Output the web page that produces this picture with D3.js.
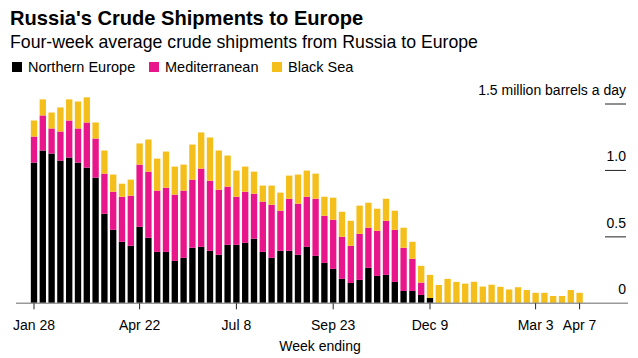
<!DOCTYPE html>
<html>
<head>
<meta charset="utf-8">
<script src="https://cdn.jsdelivr.net/npm/d3@7"></script>
<style>
  html, body { margin: 0; padding: 0; background: #fff; }
  svg { display: block; font-family: "Liberation Sans", Arial, Helvetica, sans-serif; }
</style>
</head>
<body>
<svg id="chart" width="638" height="358"></svg>
<script>
// ---- data ----
const weeks = [
  "2022-01-28","2022-02-04","2022-02-11","2022-02-18","2022-02-25","2022-03-04","2022-03-11","2022-03-18","2022-03-25",
  "2022-04-01","2022-04-08","2022-04-15","2022-04-22","2022-04-29","2022-05-06","2022-05-13","2022-05-20","2022-05-27",
  "2022-06-03","2022-06-10","2022-06-17","2022-06-24","2022-07-01","2022-07-08","2022-07-15","2022-07-22","2022-07-29",
  "2022-08-05","2022-08-12","2022-08-19","2022-08-26","2022-09-02","2022-09-09","2022-09-16","2022-09-23","2022-09-30",
  "2022-10-07","2022-10-14","2022-10-21","2022-10-28","2022-11-04","2022-11-11","2022-11-18","2022-11-25","2022-12-02",
  "2022-12-09","2022-12-16","2022-12-23","2022-12-30","2023-01-06","2023-01-13","2023-01-20","2023-01-27","2023-02-03",
  "2023-02-10","2023-02-17","2023-02-24","2023-03-03","2023-03-10","2023-03-17","2023-03-24","2023-03-31","2023-04-07"
];
const northernEurope = [
  1.059,1.150,1.127,1.074,1.097,1.059,1.021,0.946,0.674,0.553,0.463,0.433,0.576,0.493,0.387,0.387,0.319,0.342,
  0.418,0.425,0.395,0.365,0.440,0.440,0.455,0.486,0.387,0.342,0.395,0.395,0.365,0.425,0.357,0.304,0.259,0.184,
  0.153,0.176,0.267,0.206,0.214,0.161,0.093,0.093,0.063,0.040,0,0,0,0,0,0,0,0,0,0,0,0,0,0,0,0,0
];
const mediterranean = [
  0.196,0.264,0.189,0.219,0.279,0.257,0.340,0.294,0.302,0.287,0.339,0.377,0.468,0.498,0.461,0.483,0.499,0.506,
  0.513,0.589,0.528,0.490,0.438,0.362,0.385,0.339,0.378,0.400,0.302,0.392,0.385,0.377,0.430,0.355,0.370,0.317,
  0.280,0.347,0.302,0.340,0.407,0.392,0.325,0.242,0.093,0,0,0,0,0,0,0,0,0,0,0,0,0,0,0,0,0,0
];
const blackSea = [
  0.121,0.121,0.120,0.181,0.159,0.203,0.189,0.121,0.174,0.129,0.098,0.121,0.159,0.242,0.241,0.272,0.211,0.196,
  0.264,0.272,0.325,0.295,0.234,0.197,0.189,0.166,0.121,0.144,0.136,0.174,0.219,0.197,0.189,0.143,0.166,0.188,
  0.188,0.212,0.188,0.166,0.166,0.144,0.151,0.128,0.126,0.174,0.138,0.184,0.161,0.148,0.162,0.126,0.140,0.124,
  0.104,0.121,0.100,0.079,0.079,0.055,0.055,0.100,0.079
];
const seriesNames = ["Northern Europe", "Mediterranean", "Black Sea"];
const seriesColors = ["#000000", "#e8158b", "#f5bf1b"];
const xTickWeeks = ["2022-01-28","2022-04-22","2022-07-08","2022-09-23","2022-12-09","2023-03-03","2023-04-07"];
const xTickLabels = ["Jan 28","Apr 22","Jul 8","Sep 23","Dec 9","Mar 3","Apr 7"];
const yTicks = [0, 0.5, 1.0, 1.5];
const yTickLabels = ["0", "0.5", "1.0", "1.5 million barrels a day"];

// ---- build ----
const svg = d3.select("#chart");
const rows = weeks.map((w, i) => ({ week: w, "Northern Europe": northernEurope[i], "Mediterranean": mediterranean[i], "Black Sea": blackSea[i] }));
const stacked = d3.stack().keys(seriesNames)(rows);

const x = d3.scaleBand().domain(weeks).range([29.6, 584]).paddingInner(0.28).paddingOuter(0.14);
const y = d3.scaleLinear().domain([0, 1.5]).range([303.3, 104]);

// title / subtitle
svg.append("text").attr("x", 10).attr("y", 25).attr("font-size", 20.1).attr("font-weight", "bold").attr("fill", "#000")
  .text("Russia's Crude Shipments to Europe");
svg.append("text").attr("x", 10).attr("y", 48).attr("font-size", 17.7).attr("fill", "#000")
  .text("Four-week average crude shipments from Russia to Europe");

// legend
const legendX = [12, 149, 272];
const lg = svg.append("g");
seriesNames.forEach((n, i) => {
  lg.append("rect").attr("x", legendX[i]).attr("y", 62).attr("width", 10).attr("height", 10).attr("fill", seriesColors[i]);
  lg.append("text").attr("x", legendX[i] + 16).attr("y", 72).attr("font-size", 14.5).attr("fill", "#000").text(n);
});

// y gridline segments and labels
const yg = svg.append("g");
yTicks.forEach((v, i) => {
  if (v > 0) {
    yg.append("line").attr("x1", 605).attr("x2", 626).attr("y1", y(v)).attr("y2", y(v)).attr("stroke", "#222").attr("stroke-width", 1);
  }
  yg.append("text").attr("x", 626).attr("y", y(v) - 9).attr("text-anchor", "end").attr("font-size", 14).attr("fill", "#000").text(yTickLabels[i]);
});

// bars
const layers = svg.append("g").selectAll("g").data(stacked).join("g").attr("fill", (d, i) => seriesColors[i]);
layers.selectAll("rect").data(d => d.filter(s => s[1] - s[0] > 0)).join("rect")
  .attr("x", d => x(d.data.week))
  .attr("width", x.bandwidth())
  .attr("y", d => y(d[1]))
  .attr("height", d => y(d[0]) - y(d[1]));

// baseline
svg.append("line").attr("x1", 16).attr("x2", 628).attr("y1", y(0)).attr("y2", y(0)).attr("stroke", "#999").attr("stroke-width", 1.5);

// x axis
const xAxis = d3.axisBottom(x).tickValues(xTickWeeks).tickFormat(d => xTickLabels[xTickWeeks.indexOf(d)]).tickSize(6).tickPadding(11).tickSizeOuter(0);
const gx = svg.append("g").attr("transform", `translate(0,${y(0)})`).call(xAxis);
gx.select(".domain").remove();
gx.selectAll(".tick line").attr("stroke", "#222");
gx.selectAll(".tick text").attr("font-size", 14).attr("fill", "#000").attr("font-family", "Liberation Sans, Arial, sans-serif");

svg.append("text").attr("x", 320).attr("y", 351).attr("text-anchor", "middle").attr("font-size", 14).attr("fill", "#000").text("Week ending");
</script>
</body>
</html>
